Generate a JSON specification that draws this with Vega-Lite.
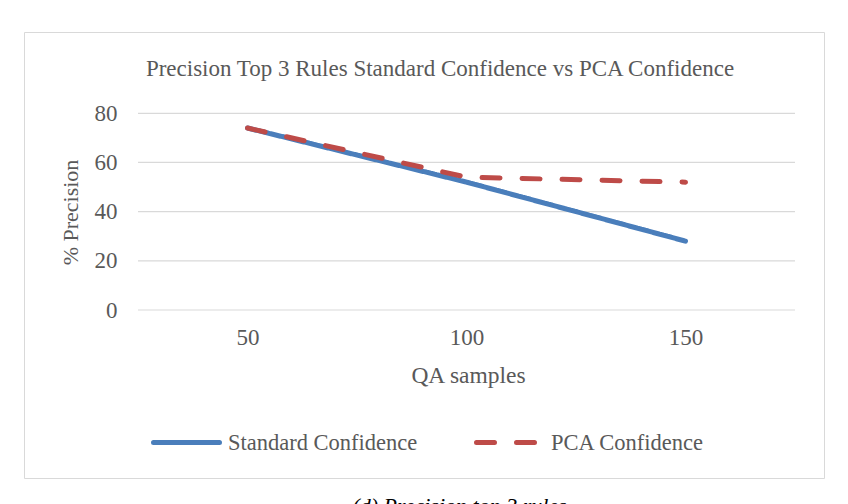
{
  "$schema": "https://vega.github.io/schema/vega-lite/v6.json",
  "width": 800,
  "height": 446,
  "autosize": {"type": "pad"},
  "padding": {"left": 24, "top": 32, "right": 24, "bottom": 26},
  "background": "white",
  "config": {
    "view": {"stroke": "#d9d9d9", "strokeWidth": 1},
    "font": "Liberation Serif",
    "axis": {"labelFont": "Liberation Serif", "titleFont": "Liberation Serif", "labelColor": "#595959", "titleColor": "#595959", "titleFontWeight": "normal"},
    "legend": {"labelFont": "Liberation Serif"}
  },
  "title": {
    "text": "Precision Top 3 Rules Standard Confidence vs PCA Confidence",
    "font": "Liberation Serif",
    "fontSize": 23,
    "fontWeight": "normal",
    "color": "#595959",
    "anchor": "middle",
    "frame": "group",
    "baseline": "alphabetic",
    "offset": -67,
    "dx": 16
  },
  "datasets": {
    "lines": [
      {"qa": 50, "series": "Standard Confidence", "v": 74},
      {"qa": 100, "series": "Standard Confidence", "v": 52},
      {"qa": 150, "series": "Standard Confidence", "v": 28},
      {"qa": 50, "series": "PCA Confidence", "v": 74},
      {"qa": 100, "series": "PCA Confidence", "v": 54},
      {"qa": 150, "series": "PCA Confidence", "v": 52}
    ],
    "grid": [{"g": 0}, {"g": 20}, {"g": 40}, {"g": 60}, {"g": 80}]
  },
  "layer": [
    {
      "data": {"name": "grid"},
      "mark": {"type": "rule", "color": "#d9d9d9", "strokeWidth": 1.2},
      "encoding": {
        "y": {
          "field": "g",
          "type": "quantitative",
          "scale": {"domain": [-68.32, 113.06], "nice": false, "zero": false},
          "axis": {
            "orient": "left",
            "values": [0, 20, 40, 60, 80],
            "grid": false,
            "domain": false,
            "ticks": false,
            "labelPadding": 0,
            "offset": -93,
            "labelFontSize": 23,
            "title": "% Precision",
            "titleFontSize": 22,
            "titlePadding": 12,
            "titleY": 180
          }
        },
        "x": {
          "datum": 25,
          "type": "quantitative",
          "scale": {"domain": [-1.03, 181.62], "nice": false, "zero": false},
          "axis": {
            "orient": "bottom",
            "labels": false,
            "ticks": false,
            "domain": false,
            "grid": false,
            "offset": 17,
            "title": "(d)    Precision  top  3  rules",
            "titleFontSize": 22,
            "titleFontStyle": "italic",
            "titleColor": "#000000",
            "titlePadding": 0,
            "titleBaseline": "top",
            "titleX": 435
          }
        },
        "x2": {"datum": 175}
      }
    },
    {
      "data": {"name": "lines"},
      "mark": {"type": "line", "strokeWidth": 5, "strokeCap": "round", "strokeJoin": "round"},
      "encoding": {
        "x": {
          "field": "qa",
          "type": "quantitative",
          "axis": {
            "orient": "bottom",
            "values": [50, 100, 150],
            "grid": false,
            "domain": false,
            "ticks": false,
            "labelPadding": 0,
            "offset": -152,
            "labelFontSize": 23,
            "title": "QA samples",
            "titleFontSize": 23.5,
            "titlePadding": 14,
            "titleX": 444
          }
        },
        "y": {"field": "v", "type": "quantitative"},
        "color": {
          "field": "series",
          "type": "nominal",
          "scale": {"domain": ["Standard Confidence", "PCA Confidence"], "range": ["#4a7ebb", "#be4b48"]},
          "legend": {
            "title": null,
            "orient": "none",
            "direction": "horizontal",
            "legendX": 127,
            "legendY": 375,
            "padding": 0,
            "symbolType": "stroke",
            "symbolSize": 4356,
            "symbolStrokeWidth": 5,
            "labelOffset": 6,
            "columnPadding": 48,
            "labelFontSize": 22.5,
            "labelColor": "#595959",
            "labelLimit": 400,
            "encode": {"symbols": {"update": {"strokeCap": {"value": "round"}}}}
          }
        },
        "strokeDash": {
          "field": "series",
          "type": "nominal",
          "scale": {"domain": ["Standard Confidence", "PCA Confidence"], "range": [[1, 0], [18, 22]]}
        }
      }
    }
  ],
  "resolve": {"axis": {"x": "independent"}}
}
